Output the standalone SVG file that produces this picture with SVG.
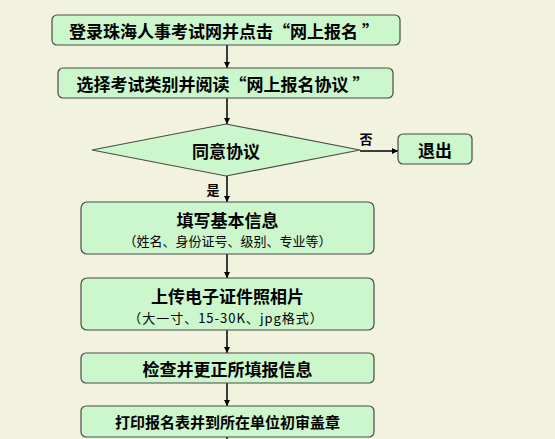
<svg xmlns="http://www.w3.org/2000/svg" width="555" height="439" viewBox="0 0 555 439">
<style>
.n{fill:#ccf7cc;stroke:#4a4a4a;stroke-width:1.2}
.t{font-family:"Noto Sans CJK SC","Noto Sans",sans-serif;font-weight:bold;font-size:17px;fill:#000;text-anchor:middle;dominant-baseline:central}
.s{font-family:"Noto Sans CJK SC","Noto Sans",sans-serif;font-size:13px;fill:#000;text-anchor:middle;dominant-baseline:central}
.l{font-family:"Noto Sans CJK SC","Noto Sans",sans-serif;font-weight:bold;font-size:13px;fill:#000;text-anchor:middle;dominant-baseline:central}
.c{stroke:#000;stroke-width:1.5;fill:none;marker-end:url(#a)}
</style>
<defs>
<marker id="a" viewBox="0 0 10 10" refX="10" refY="5" markerWidth="6" markerHeight="6" markerUnits="userSpaceOnUse" orient="auto"><path d="M0,0L10,5L0,10z" fill="#000"/></marker>
</defs>
<rect width="555" height="439" fill="#f1f3de"/>
<g id="connectors">
<line class="c" x1="227" y1="45" x2="227" y2="68"/>
<line class="c" x1="227" y1="98" x2="227" y2="124"/>
<line class="c" x1="360" y1="151" x2="398" y2="151"/>
<line class="c" x1="227" y1="176" x2="227" y2="202"/>
<line class="c" x1="227" y1="254" x2="227" y2="278"/>
<line class="c" x1="227" y1="330" x2="227" y2="353"/>
<line class="c" x1="227" y1="383" x2="227" y2="406"/>
<line stroke="#000" stroke-width="1.5" x1="227" y1="437" x2="227" y2="439"/>
<text class="l" x="366" y="138">否</text>
<text class="l" x="213" y="189">是</text>
</g>
<g id="n1"><rect class="n" x="52" y="15" width="348" height="30" rx="5"/><text class="t" x="224" y="30">登录珠海人事考试网并点击“网上报名 ”</text></g>
<g id="n2"><rect class="n" x="58" y="68" width="335" height="30" rx="5"/><text class="t" x="223" y="83">选择考试类别并阅读“网上报名协议 ”</text></g>
<g id="n3"><polygon class="n" points="92,150 226,124 360,150 226,176"/><text class="t" x="226" y="150">同意协议</text></g>
<g id="n4"><rect class="n" x="398" y="134" width="74" height="30" rx="5"/><text class="t" x="435" y="149">退出</text></g>
<g id="n5"><rect class="n" x="81" y="202" width="293" height="52" rx="6"/><text class="t" x="227.5" y="219">填写基本信息</text><text class="s" x="227.5" y="240">（姓名、身份证号、级别、专业等）</text></g>
<g id="n6"><rect class="n" x="81" y="278" width="293" height="52" rx="6"/><text class="t" x="227.5" y="295">上传电子证件照相片</text><text class="s" x="226" y="317" letter-spacing="1">（大一寸、15-30K、jpg格式）</text></g>
<g id="n7"><rect class="n" x="81" y="353" width="293" height="30" rx="5"/><text class="t" x="227.5" y="368">检查并更正所填报信息</text></g>
<g id="n8"><rect class="n" x="81" y="406" width="293" height="31" rx="5"/><text class="t" x="227.5" y="421" style="font-size:15px">打印报名表并到所在单位初审盖章</text></g>
</svg>
